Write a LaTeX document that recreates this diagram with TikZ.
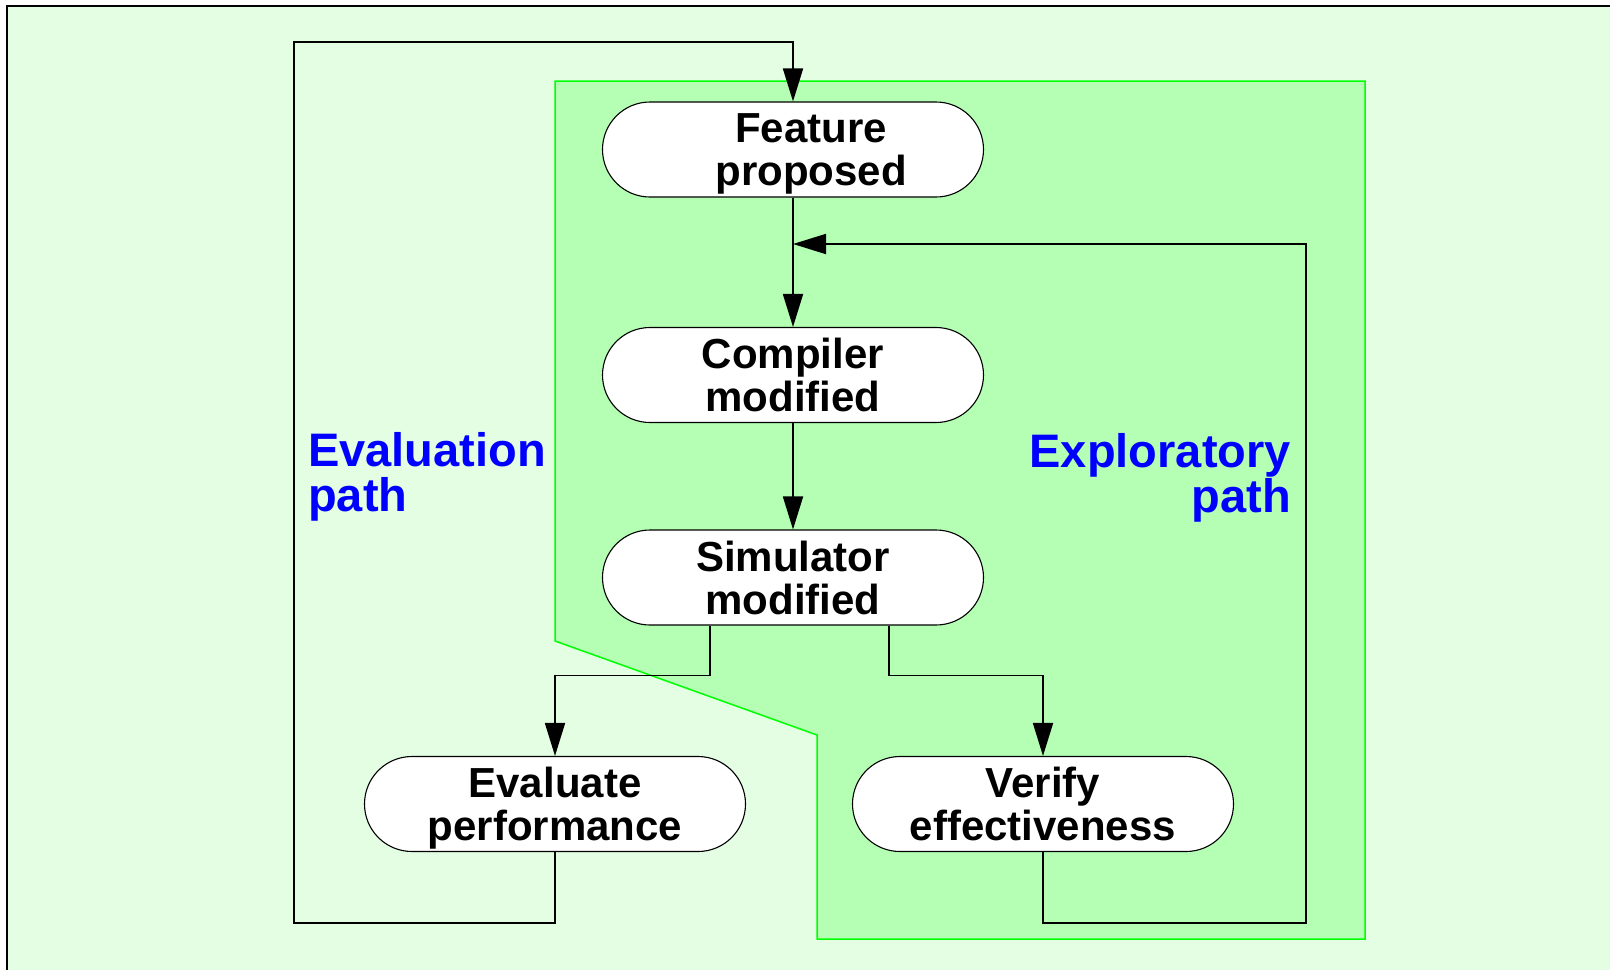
\documentclass[tikz,border=0pt]{standalone}
\usepackage{fontspec}
\setmainfont{Liberation Sans}
\usetikzlibrary{arrows.meta,shapes.misc,calc}
\definecolor{paleground}{HTML}{E4FEE4}
\definecolor{zonefill}{HTML}{B4FFB4}
\definecolor{zoneedge}{HTML}{00FF00}
\definecolor{pathblue}{HTML}{0000FF}
\tikzset{
  stepbox/.style={rounded rectangle, draw=black, line width=1.1pt, fill=white,
    minimum width=381pt, minimum height=95pt, inner sep=0pt, align=center,
    text depth=0pt, font=\bfseries\fontsize{42}{43}\selectfont},
  boxtext/.style={inner sep=0pt, align=center, text depth=0pt,
    font=\bfseries\fontsize{42}{43}\selectfont},
  conn/.style={draw=black, line width=1.8pt},
  flow/.style={conn, -{Triangle[length=33pt,width=20pt]}},
  pathlabel/.style={inner sep=0pt, text=pathblue, font=\bfseries\fontsize{47}{45}\selectfont},
}
\begin{document}
\begin{tikzpicture}[x=1pt,y=-1pt]
\useasboundingbox (0,0) rectangle (1610,970);
% page background and frame
\fill[paleground] (7,6) rectangle (1610,970);
\draw[line width=1.7pt] (7,970) -- (7,6) -- (1610,6);
% exploratory zone
\draw[fill=zonefill, draw=zoneedge, line width=1.5pt]
  (555,81) -- (1365,81) -- (1365,939) -- (817,939) -- (817,735) -- (555,641) -- cycle;

% steps
\node[stepbox] (fp) at (793,149.5) {};
\node[boxtext] (fptext) at (811,149.5) {Feature\\proposed};
\node[stepbox] (cm) at (793,375) {Compiler\\modified};
\node[stepbox] (sm) at (793,577.5) {Simulator\\modified};
\node[stepbox] (ev) at (555,804) {Evaluate\\performance};
\node[stepbox] (ve) at (1043,804) {Verify\\effectiveness};

% path labels
\node[pathlabel, anchor=north west, align=left] (evlabel) at (308,432) {Evaluation\\path};
\node[pathlabel, anchor=north east, align=right] (exlabel) at (1291,433) {Exploratory\\path};

% corner points of the return loops
\coordinate (evalCorner) at (294,923);
\coordinate (evalTop) at (294,42);
\coordinate (expCorner) at (1306,923);
\coordinate (expTop) at (1306,244);
\coordinate (merge) at (793,244);

% main flow
\draw[flow] (fp.south) -- (cm.north);
\draw[flow] (cm.south) -- (sm.north);
\draw[flow] ([xshift=-83pt]sm.south) -- ++(0,50) -| (ev.north);
\draw[flow] ([xshift=96pt]sm.south) -- ++(0,50) -| (ve.north);

% evaluation loop back to the proposal
\draw[flow] (ev.south) |- (evalCorner) -- (evalTop) -| (fp.north);
% exploratory loop back into the flow
\draw[flow] (ve.south) |- (expCorner) -- (expTop) -- (merge);
\end{tikzpicture}
\end{document}
